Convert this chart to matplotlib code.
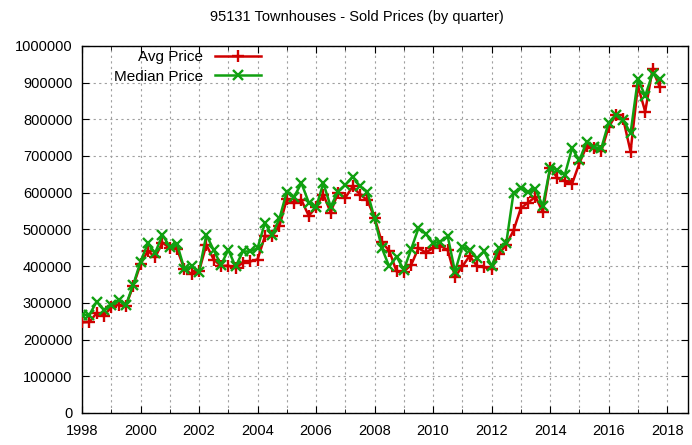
import numpy as np
import matplotlib
matplotlib.use('agg')
import matplotlib.pyplot as plt
from matplotlib.ticker import MultipleLocator, FuncFormatter

plt.rcParams['font.family'] = ['Liberation Sans', 'DejaVu Sans']

## quarterly data, 1998 Q1 .. 2017 Q4
quarters = np.arange(1998.0, 2018.0, 0.25)

# average sold price
avg_price = [
    247000, 248000, 272000, 265000, 288000, 295000, 292000, 346000,
    405000, 442000, 424000, 464000, 449000, 446000, 392000, 378000,
    386000, 458000, 418000, 400000, 401000, 396000, 409000, 413000,
    418000, 481000, 482000, 510000, 582000, 572000, 580000, 537000,
    560000, 595000, 546000, 600000, 586000, 617000, 595000, 580000,
    532000, 465000, 442000, 386000, 385000, 403000, 449000, 437000,
    449000, 455000, 444000, 371000, 399000, 428000, 400000, 397000,
    392000, 433000, 458000, 497000, 558000, 573000, 589000, 547000,
    668000, 640000, 632000, 624000, 680000, 727000, 721000, 713000,
    778000, 812000, 800000, 712000, 891000, 821000, 936000, 887000,
]

# median sold price
median_price = [
    268000, 267000, 303000, 281000, 295000, 308000, 294000, 349000,
    412000, 462000, 436000, 485000, 453000, 460000, 392000, 399000,
    385000, 485000, 444000, 403000, 444000, 399000, 440000, 440000,
    449000, 517000, 485000, 530000, 603000, 589000, 626000, 573000,
    560000, 626000, 562000, 603000, 621000, 644000, 617000, 603000,
    530000, 449000, 399000, 426000, 390000, 446000, 503000, 488000,
    462000, 467000, 481000, 385000, 453000, 444000, 421000, 440000,
    400000, 449000, 462000, 600000, 612000, 603000, 609000, 564000,
    667000, 662000, 648000, 721000, 688000, 739000, 724000, 721000,
    791000, 812000, 798000, 762000, 909000, 864000, 924000, 909000,
]

fig = plt.figure(figsize=(6.92, 4.45), dpi=100)
ax = fig.add_axes([0.1185, 0.072, 0.876, 0.825])

ax.plot(quarters, avg_price, color='#d00000', lw=1.8, marker='+',
        ms=8.5, mew=1.7, label='Avg Price', zorder=3)
ax.plot(quarters, median_price, color='#10a010', lw=1.8, marker='x',
        ms=6.5, mew=1.7, label='Median Price', zorder=4)

ax.set_xlim(1998, 2018.72)
ax.set_ylim(0, 1000000)
ax.xaxis.set_major_locator(MultipleLocator(2))
ax.xaxis.set_minor_locator(MultipleLocator(1))
ax.yaxis.set_major_locator(MultipleLocator(100000))
ax.xaxis.set_major_formatter(FuncFormatter(lambda v, p: '%d' % v))
ax.yaxis.set_major_formatter(FuncFormatter(lambda v, p: '%d' % v))
ax.tick_params(which='both', direction='in', top=True, right=True,
               labelsize=10.5, color='black')
ax.tick_params(which='major', length=5)
ax.tick_params(which='minor', length=3)
ax.tick_params(axis='x', which='major', pad=8)
ax.tick_params(axis='y', which='major', pad=7)

ax.grid(True, which='both', axis='x', color='#a0a0a0', ls=(0, (2, 3)), lw=0.8)
ax.grid(True, which='major', axis='y', color='#a0a0a0', ls=(0, (2, 3)), lw=0.8)
ax.set_axisbelow(True)
for s in ax.spines.values():
    s.set_linewidth(1.0)

fig.suptitle('95131 Townhouses - Sold Prices (by quarter)', fontsize=10.5,
             x=0.515, y=0.962, va='center')

ax.legend(loc='upper left', bbox_to_anchor=(0.03, 1.025), frameon=False,
          markerfirst=False, fontsize=11, handlelength=3.0,
          labelspacing=0.35, handletextpad=0.8)

plt.savefig('out.png', dpi=100)
